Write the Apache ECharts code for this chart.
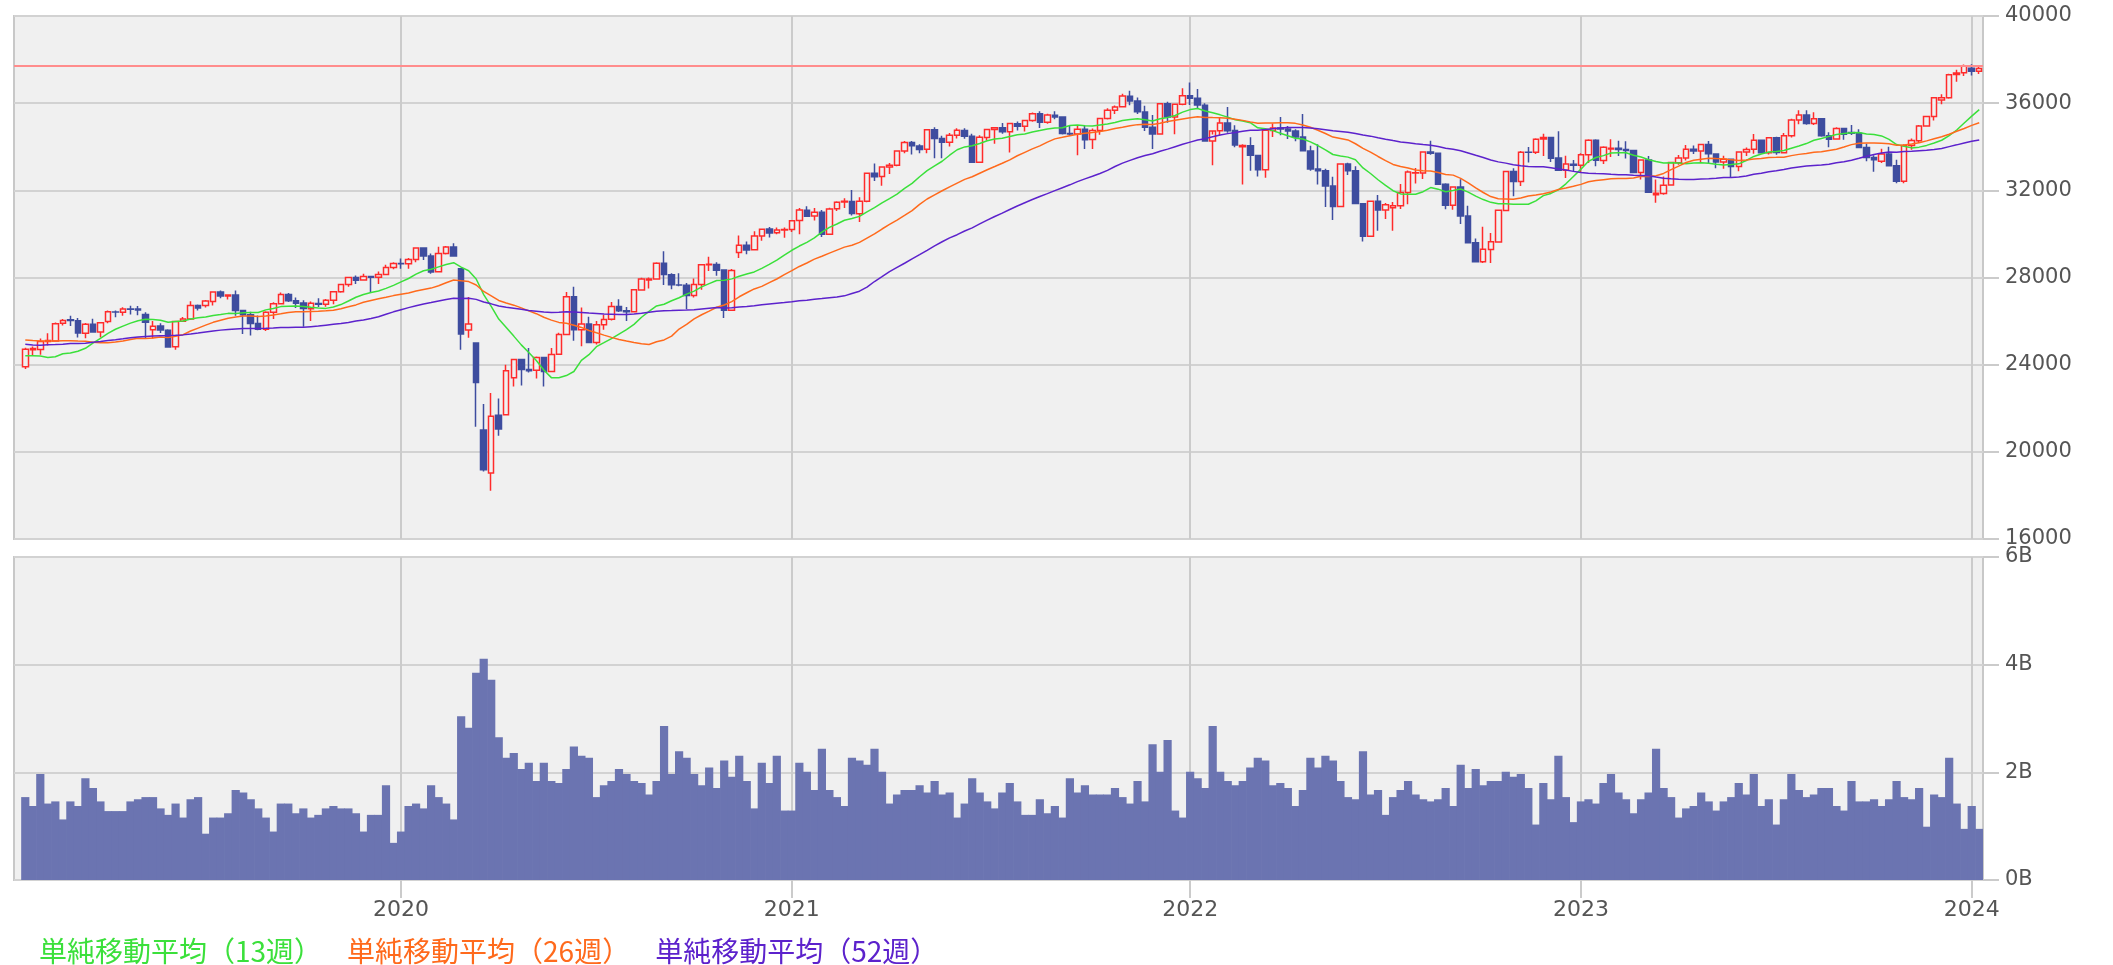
<!DOCTYPE html>
<html>
<head>
<meta charset="utf-8">
<title>NYダウ 週足</title>
<script src="https://cdn.jsdelivr.net/npm/echarts/dist/echarts.min.js"></script>
<style>
html, body { margin: 0; padding: 0; background: #fff; }
#main { width: 2113px; height: 965px; }
</style>
</head>
<body>
<div id="main"></div>
<script>
// weekly bars, week ending 2019-01-18 ... 2024-01-12
var openPrices = [
  23910,24690,24700,25060,25090,25900,26060,26020,25440,25850,
  25500,25980,26420,26410,26550,26550,26300,25600,25770,25580,
  24820,25990,26100,26720,26720,26900,27330,27150,27200,26480,
  26290,25890,25630,26400,26800,27220,26930,26830,26570,26810,
  26770,26960,27350,27680,28000,27880,28050,28010,28140,28460,
  28640,28630,28830,29350,28990,28260,29100,29400,28400,25590,
  24990,21000,19030,21680,21700,23400,24240,23780,23740,24330,
  23690,24480,25390,27120,25600,25870,25020,25830,26080,26670,
  26470,26430,27430,27880,27930,28650,28130,27660,27650,27170,
  27680,28590,28600,28340,26500,29150,29480,29270,29910,30220,
  30050,30180,30200,30620,31090,30820,30990,29990,31150,31460,
  31490,30930,31500,32780,32630,33070,33150,33800,34200,34040,
  33880,34780,34380,34210,34530,34750,34480,33290,34430,34790,
  34870,34690,35060,34940,35210,35510,35120,35450,35370,34610,
  34580,34800,34330,34750,35300,35680,35830,36320,36100,35600,
  34900,34590,35970,35360,35950,36340,36230,35910,34260,34730,
  35090,34740,34000,34050,33600,32950,34750,34860,34820,34720,
  34450,33810,32980,32900,32200,31260,33210,32900,31390,29890,
  31500,31100,31200,31290,31900,32790,32800,33760,33700,32280,
  31320,32150,30820,29590,28720,29290,29630,31080,32860,32400,
  33750,33750,34350,34430,33480,32920,33200,33150,33630,34300,
  33370,33900,33930,33870,33830,32820,33390,31800,31860,32240,
  33270,33480,33890,33810,34100,33670,33300,33430,33090,33760,
  33880,34300,33720,34410,33730,34510,35230,35460,35070,35280,
  34500,34350,34840,34650,34620,33960,33510,33330,33670,33130,
  32420,34060,34280,34950,35390,36150,36250,37310,37400,37600,
  37470
];
var highPrices = [
  24780,24830,25200,25440,25940,26090,26240,26140,25910,26110,
  25950,26490,26490,26640,26700,26690,26400,26000,25900,25620,
  26000,26190,26910,26760,26970,27340,27400,27200,27400,26500,
  26430,26260,26450,26860,27310,27290,27080,26960,26900,27050,
  27010,27350,27700,28040,28090,28170,28070,28270,28580,28700,
  28870,28900,29375,29380,29100,29410,29440,29570,28400,27100,
  25020,22200,22700,22450,24000,24270,24250,24760,24370,24360,
  24770,25460,27340,27580,26620,26200,26000,26290,26880,27000,
  26650,27470,27990,28000,28700,29200,28200,28200,27750,27950,
  28620,28950,28700,28350,28390,29930,29650,30120,30240,30320,
  30300,30300,30640,31190,31270,31190,31100,31200,31500,31640,
  32010,31680,32800,33230,33080,33260,33810,34260,34260,34120,
  34820,34900,34500,34630,34850,34850,34600,34530,34800,34900,
  35090,35090,35160,35230,35570,35630,35510,35630,35400,34960,
  34970,34990,34840,35330,35770,35890,36430,36570,36260,35880,
  35460,36000,36060,35960,36680,36950,36650,36000,34560,35350,
  35820,34990,34120,34440,33600,34790,35070,35370,34950,34800,
  35500,34050,34120,32990,32620,33220,33270,33100,31390,31520,
  31790,31420,31470,32290,32910,33030,33760,34280,33710,32330,
  32190,32510,31290,29790,30330,30040,31100,32900,33010,33800,
  33990,34390,34600,34430,34710,33590,33390,33700,34340,34340,
  34020,34340,34280,34250,33830,33420,33570,32500,32640,33280,
  33620,34080,34060,34120,34260,33700,33590,33460,33790,33960,
  34590,34320,34450,34460,34630,35290,35680,35680,35580,35320,
  34660,34900,34850,35000,34800,34140,33610,33910,34000,33400,
  34120,34380,35000,35400,36260,36410,37350,37530,37780,37790,
  37730
];
var lowPrices = [
  23800,24400,24450,24880,25050,25800,25780,25250,25210,25480,
  25250,25900,26180,26250,26300,26270,25220,25200,25450,24800,
  24680,25970,26050,26480,26620,26720,27050,26990,26250,25410,
  25340,25580,25550,26100,26780,26870,26600,25740,26000,26650,
  26660,26770,27300,27580,27700,27850,27330,27700,28100,28380,
  28400,28400,28700,28800,28170,28250,29050,28970,24680,25230,
  21150,19100,18210,20740,21690,23000,23040,23640,23360,23000,
  23680,24450,25380,25100,24840,24980,24930,25600,26030,26420,
  26000,26420,27400,27500,27900,27660,27460,27600,26540,27080,
  27440,28300,28080,26140,26500,28900,29070,29260,29690,29840,
  29990,29820,30090,29980,30780,30610,29860,29960,31050,31190,
  30850,30550,31450,32430,32210,32750,33100,33700,33640,33700,
  33700,33470,33470,34010,34380,34370,33270,33270,34290,34140,
  34600,33740,34750,34700,35150,34860,35050,35260,34560,34500,
  33610,33900,33900,34550,35250,35500,35810,35900,35500,34720,
  33900,34560,35100,34570,35910,35920,35760,34260,33150,34530,
  34640,33980,32270,32900,32630,32580,34450,34530,34360,34250,
  33810,32900,32270,31230,30640,31250,32700,31390,29650,29880,
  30140,30690,30140,31140,31360,32310,32520,33630,32280,31130,
  31110,30460,29560,28720,28660,28660,29630,31070,31730,32200,
  33280,33670,33580,33300,32920,32570,32880,32810,33260,33110,
  33210,33530,33570,33460,32800,32500,31880,31430,31800,32230,
  33170,33370,33670,33300,33240,33010,32990,32590,32870,33570,
  33680,33720,33650,33630,33710,34430,35030,35010,35000,34460,
  33980,34340,34320,34540,33950,33340,32850,33250,33110,32330,
  32330,33860,34170,34930,35200,35950,36200,36980,37250,37270,
  37340
];
var closePrices = [
  24706,24737,25064,25106,25883,26031,26026,25450,25849,25502,
  25929,26425,26412,26559,26543,26505,25942,25764,25586,24815,
  25984,26090,26719,26600,26922,27332,27154,27192,26485,26287,
  25886,25629,26403,26797,27220,26935,26820,26573,26817,26770,
  26958,27347,27681,28005,27876,28051,28015,28135,28455,28645,
  28635,28824,29348,28990,28256,29103,29398,28992,25409,25865,
  23186,19174,21637,21053,23719,24242,23775,23724,24331,23685,
  24465,25383,27111,25605,25871,25016,25827,26075,26672,26470,
  26428,27433,27931,27930,28654,28133,27666,27657,27174,27683,
  28587,28606,28336,26502,28323,29480,29263,29910,30218,30046,
  30179,30200,30606,31098,30814,30997,29983,31148,31458,31494,
  30932,31496,32779,32628,33073,33153,33801,34200,34043,33875,
  34778,34382,34208,34529,34756,34480,33290,34433,34786,34870,
  34688,35062,34935,35209,35515,35120,35455,35369,34607,34584,
  34798,34326,34746,35295,35677,35820,36328,36100,35602,34899,
  34580,35971,35365,35950,36338,36231,35912,34265,34725,35089,
  34738,34079,34059,33615,32944,34755,34861,34818,34721,34451,
  33811,32977,32899,32197,31262,33213,32900,31393,29888,31501,
  31097,31338,31289,31899,32845,32803,33761,33706,32283,31318,
  32152,30822,29590,28726,29297,29635,31083,32862,32403,33748,
  33746,34347,34430,33477,32920,33203,33147,33631,34303,33375,
  33978,33926,33870,33827,32817,33391,31910,31862,32238,33274,
  33485,33886,33809,34098,33674,33301,33427,33093,33762,33877,
  34299,33727,34408,33734,34509,35228,35459,35066,35281,34500,
  34347,34838,34577,34618,33964,33508,33407,33670,33127,32418,
  34061,34283,34947,35390,36245,36247,37305,37385,37690,37466,
  37592
];
// weekly closes before the first bar, only needed to start the moving averages
var closes2018 = [
  26617,25521,24191,25219,25310,24538,25336,24947,23533,24103,
  23933,24360,24463,24311,24263,24831,24715,24753,24635,25317,
  25090,24580,24271,24456,25019,25058,25451,25463,25313,25669,
  25790,25965,25917,26155,26744,26458,26447,25340,25444,24688,
  25271,25989,25413,24286,25538,24389,24101,22445,23062,23433,
  23996
];
// weekly volume, billions of shares
var volumes = [
  1.54,1.375,1.97,1.42,1.46,1.125,1.46,1.375,1.89,1.71,
  1.46,1.28,1.28,1.28,1.46,1.5,1.54,1.54,1.33,1.21,
  1.42,1.16,1.5,1.54,0.86,1.16,1.16,1.24,1.67,1.625,
  1.5,1.33,1.16,0.9,1.42,1.42,1.24,1.33,1.16,1.21,
  1.33,1.375,1.33,1.33,1.24,0.9,1.21,1.21,1.76,0.69,
  0.9,1.375,1.42,1.33,1.76,1.54,1.42,1.125,3.04,2.83,
  3.85,4.11,3.72,2.65,2.27,2.36,2.06,2.18,1.84,2.18,
  1.84,1.8,2.06,2.48,2.31,2.27,1.54,1.76,1.84,2.06,
  1.97,1.84,1.8,1.59,1.84,2.86,1.97,2.39,2.27,1.97,
  1.76,2.09,1.71,2.22,1.92,2.31,1.84,1.33,2.18,1.8,
  2.31,1.29,1.29,2.18,2.01,1.67,2.44,1.67,1.54,1.375,
  2.27,2.22,2.14,2.44,2.01,1.42,1.59,1.67,1.67,1.76,
  1.625,1.84,1.59,1.625,1.16,1.42,1.89,1.625,1.46,1.33,
  1.625,1.8,1.46,1.21,1.21,1.5,1.24,1.375,1.16,1.89,
  1.625,1.76,1.59,1.59,1.59,1.71,1.54,1.42,1.84,1.46,
  2.52,2.01,2.6,1.29,1.16,2.01,1.89,1.71,2.86,2.01,
  1.84,1.76,1.84,2.09,2.27,2.22,1.76,1.8,1.71,1.375,
  1.67,2.27,2.09,2.31,2.22,1.84,1.54,1.5,2.39,1.59,
  1.67,1.21,1.54,1.67,1.84,1.59,1.5,1.46,1.5,1.71,
  1.375,2.14,1.71,2.06,1.76,1.84,1.84,2.01,1.92,1.97,
  1.71,1.03,1.8,1.5,2.31,1.54,1.075,1.46,1.5,1.42,
  1.8,1.97,1.625,1.5,1.24,1.5,1.625,2.44,1.71,1.54,
  1.16,1.33,1.375,1.625,1.46,1.29,1.46,1.54,1.8,1.59,
  1.97,1.375,1.5,1.03,1.5,1.97,1.67,1.54,1.59,1.71,
  1.71,1.375,1.29,1.84,1.46,1.46,1.5,1.375,1.5,1.84,
  1.54,1.5,1.71,0.99,1.59,1.54,2.27,1.42,0.95,1.375,
  0.95
];
var yearStarts = ['2020-01-03', '2021-01-01', '2022-01-07', '2023-01-06', '2024-01-05'];
var priceTicks = [16000, 20000, 24000, 28000, 32000, 36000, 40000];
var volumeTicks = [0, 2, 4, 6];
var peakLine = 37720;
var maNames = ['単純移動平均（13週）', '単純移動平均（26週）', '単純移動平均（52週）'];
var maColors = ['#3be03b', '#ff6a1c', '#5c22cc'];

// one empty slot on the left, then one slot per week (Fridays)
var weekDates = [];
var t0 = Date.UTC(2019, 0, 11);
for (var k = 0; k <= closePrices.length; k++) {
    weekDates.push(new Date(t0 + k * 7 * 86400000).toISOString().slice(0, 10));
}

function movingAverage(n) {
    var all = closes2018.concat(closePrices);
    var off = closes2018.length;
    var out = ['-'];
    for (var i = 0; i < closePrices.length; i++) {
        var s = 0;
        for (var j = 0; j < n; j++) s += all[off + i - j];
        out.push(Math.round(s / n));
    }
    return out;
}

var candles = [['-', '-', '-', '-']];
for (var i = 0; i < closePrices.length; i++) {
    candles.push([openPrices[i], closePrices[i], lowPrices[i], highPrices[i]]);
}
var volumeData = ['-'].concat(volumes);

function isYearStart(index) {
    return yearStarts.indexOf(weekDates[index]) >= 0;
}

var yearLines = {
    silent: true,
    symbol: 'none',
    z: 1,
    label: { show: false },
    lineStyle: { color: '#cbcbcb', width: 2, type: 'solid' },
    emphasis: { disabled: true },
    data: yearStarts.map(function (d) { return { xAxis: d }; })
};

var labelStyle = {
    color: '#555',
    fontFamily: 'DejaVu Sans',
    fontSize: 21
};

var myChart = echarts.init(document.getElementById('main'));

myChart.setOption({
    animation: false,
    backgroundColor: '#fff',
    textStyle: { fontFamily: 'DejaVu Sans' },
    grid: [
        { left: 14, right: 130, top: 16, height: 523, show: true, backgroundColor: '#f0f0f0',
          borderColor: '#c8c8c8', borderWidth: 2, outerBoundsMode: 'none' },
        { left: 14, right: 130, top: 557, height: 323, show: true, backgroundColor: '#f0f0f0',
          borderColor: '#c8c8c8', borderWidth: 2, outerBoundsMode: 'none' }
    ],
    legend: {
        left: 29,
        top: 932,
        icon: 'none',
        itemWidth: 0,
        itemGap: 20,
        selectedMode: false,
        textStyle: { fontFamily: 'Noto Sans CJK JP', fontSize: 28 },
        data: maNames.map(function (n, i) {
            return { name: n, textStyle: { color: maColors[i] } };
        })
    },
    xAxis: [
        {
            type: 'category', gridIndex: 0, data: weekDates, boundaryGap: true,
            axisLine: { show: false }, axisTick: { show: false },
            axisLabel: { show: false }, splitLine: { show: false }
        },
        {
            type: 'category', gridIndex: 1, data: weekDates, boundaryGap: true,
            axisLine: { show: false },
            axisTick: {
                show: true, alignWithLabel: true, length: 18,
                interval: function (index) { return isYearStart(index); },
                lineStyle: { color: '#cbcbcb', width: 2 }
            },
            axisLabel: Object.assign({
                show: true, margin: 19,
                interval: function (index) { return isYearStart(index); },
                formatter: function (v) { return v.slice(0, 4); }
            }, labelStyle, { fontSize: 22 }),
            splitLine: { show: false }
        }
    ],
    yAxis: [
        {
            type: 'value', gridIndex: 0, position: 'right',
            min: priceTicks[0], max: priceTicks[priceTicks.length - 1], interval: 4000,
            axisLine: { show: false },
            axisTick: { show: true, length: 16, lineStyle: { color: '#cbcbcb', width: 2 } },
            axisLabel: Object.assign({ margin: 22, formatter: function (v) { return String(v); } }, labelStyle),
            splitLine: { lineStyle: { color: '#d2d2d2', width: 2 } }
        },
        {
            type: 'value', gridIndex: 1, position: 'right',
            min: volumeTicks[0], max: volumeTicks[volumeTicks.length - 1], interval: 2,
            axisLine: { show: false },
            axisTick: { show: true, length: 16, lineStyle: { color: '#cbcbcb', width: 2 } },
            axisLabel: Object.assign({ margin: 22, formatter: function (v) { return v + 'B'; } }, labelStyle),
            splitLine: { lineStyle: { color: '#d2d2d2', width: 2 } }
        }
    ],
    series: [
        {
            name: 'NYダウ',
            type: 'candlestick',
            xAxisIndex: 0, yAxisIndex: 0,
            data: candles,
            barWidth: 6,
            z: 2,
            itemStyle: {
                color: '#f0f0f0',
                color0: '#3e4d9f',
                borderColor: '#ff2b2b',
                borderColor0: '#3e4d9f',
                borderWidth: 1.5
            },
            markLine: yearLines
        },
        {
            name: maNames[0], type: 'line', xAxisIndex: 0, yAxisIndex: 0,
            data: movingAverage(13), symbol: 'none', z: 3,
            lineStyle: { color: maColors[0], width: 1.5 }, itemStyle: { color: maColors[0] },
            markLine: {
                silent: true, symbol: 'none', z: 6, label: { show: false },
                lineStyle: { color: '#ff8c8c', width: 2, type: 'solid' },
                data: [{ yAxis: peakLine }]
            }
        },
        {
            name: maNames[1], type: 'line', xAxisIndex: 0, yAxisIndex: 0,
            data: movingAverage(26), symbol: 'none', z: 3,
            lineStyle: { color: maColors[1], width: 1.5 }, itemStyle: { color: maColors[1] }
        },
        {
            name: maNames[2], type: 'line', xAxisIndex: 0, yAxisIndex: 0,
            data: movingAverage(52), symbol: 'none', z: 3,
            lineStyle: { color: maColors[2], width: 1.5 }, itemStyle: { color: maColors[2] }
        },
        {
            name: '出来高', type: 'bar', xAxisIndex: 1, yAxisIndex: 1,
            data: volumeData, barWidth: 8.2, z: 2,
            itemStyle: { color: '#6b74b1' },
            markLine: yearLines
        }
    ]
});
</script>
</body>
</html>
